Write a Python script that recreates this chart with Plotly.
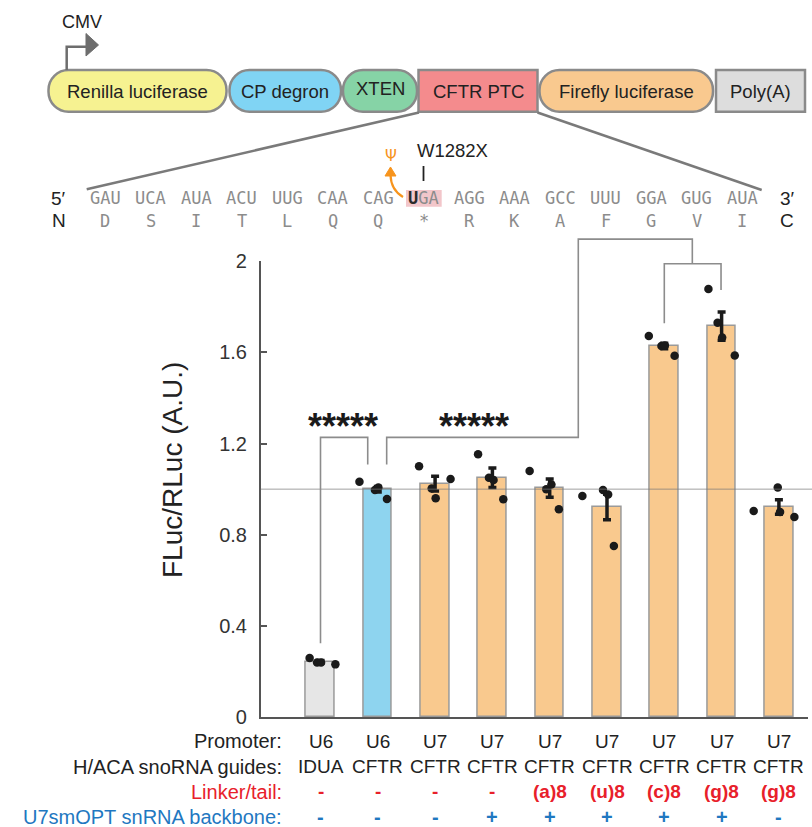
import plotly.graph_objects as go

W, H = 812, 827

# ---------------- data ----------------
promoter = ["U6", "U6", "U7", "U7", "U7", "U7", "U7", "U7", "U7"]
guides = ["IDUA", "CFTR", "CFTR", "CFTR", "CFTR", "CFTR", "CFTR", "CFTR", "CFTR"]
linker_tail = ["-", "-", "-", "-", "(a)8", "(u)8", "(c)8", "(g)8", "(g)8"]
backbone = ["-", "-", "-", "+", "+", "+", "+", "+", "-"]

bar_means = [0.243, 1.000, 1.024, 1.050, 1.004, 0.922, 1.627, 1.715, 0.922]
bar_sem = [0.006, 0.012, 0.032, 0.043, 0.040, 0.056, 0.012, 0.062, 0.032]

rep_a = [0.260, 1.032, 1.100, 1.153, 1.080, 0.970, 1.671, 1.877, 0.904]
rep_b = [0.240, 0.996, 1.003, 1.050, 1.000, 0.996, 1.627, 1.729, 1.007]
rep_c = [0.240, 1.007, 0.960, 1.040, 1.020, 0.977, 1.630, 1.665, 0.900]
rep_d = [0.232, 0.957, 1.044, 0.956, 0.912, 0.751, 1.585, 1.586, 0.878]
jit_a = [-0.19, -0.32, -0.28, -0.25, -0.35, -0.43, -0.27, -0.23, -0.44]
jit_b = [-0.06, -0.05, -0.06, -0.06, -0.06, -0.07, -0.05, -0.07, -0.02]
jit_c = [0.01, 0.01, 0.01, 0.02, 0.03, 0.02, 0.01, 0.01, 0.02]
jit_d = [0.26, 0.16, 0.27, 0.19, 0.16, 0.12, 0.18, 0.23, 0.27]

bar_colors = ["#e6e6e6", "#8ed4ef"] + ["#f9c98e"] * 7

y_ticks = [0, 0.4, 0.8, 1.2, 1.6, 2]
y_ticktext = ["0", "0.4", "0.8", "1.2", "1.6", "2"]

codons = ["GAU", "UCA", "AUA", "ACU", "UUG", "CAA", "CAG", "UGA",
          "AGG", "AAA", "GCC", "UUU", "GGA", "GUG", "AUA"]
amino = ["D", "S", "I", "T", "L", "Q", "Q", "*", "R", "K", "A", "F", "G", "V", "I"]

parts = ["Renilla luciferase", "CP degron", "XTEN", "CFTR PTC", "Firefly luciferase", "Poly(A)"]
part_fill = ["#f6f291", "#80d4f4", "#86d3a6", "#f48b8d", "#f9c98f", "#dddddd"]

# ---------------- helpers ----------------
def px(x):
    return x / W

def py(y):
    return 1 - y / H

Y0PIX, Y2PIX = 717.3, 261.0
X0C, XSTEP = 320.5, 57.3

def yv(v):
    return py(Y0PIX - v * (Y0PIX - Y2PIX) / 2)

FONT = "Liberation Sans, Arial, sans-serif"
MONO = "DejaVu Sans Mono, monospace"

fig = go.Figure()

n = len(bar_means)
xs = list(range(n))
fig.add_trace(go.Bar(
    x=xs, y=bar_means, width=0.5,
    marker=dict(color=bar_colors, line=dict(color="#9a9a9a", width=1.5)),
    error_y=dict(type="data", array=bar_sem, color="#1a1a1a", thickness=3.5, width=4),
    showlegend=False, hoverinfo="skip",
))

px_pts, py_pts = [], []
for reps, jit in [(rep_a, jit_a), (rep_b, jit_b), (rep_c, jit_c), (rep_d, jit_d)]:
    for i in range(n):
        px_pts.append(i + jit[i])
        py_pts.append(reps[i])
fig.add_trace(go.Scatter(
    x=px_pts, y=py_pts, mode="markers",
    marker=dict(color="#1a1a1a", size=8.5),
    showlegend=False, hoverinfo="skip", cliponaxis=False,
))

shapes = []
annots = []

def ann(text, x, y, size, color="#222", xanchor="center", yanchor="middle",
        font=FONT, xref="paper", yref="paper", **kw):
    annots.append(dict(text=text, x=x, y=y, xref=xref, yref=yref, showarrow=False,
                       xanchor=xanchor, yanchor=yanchor,
                       font=dict(size=size, color=color, family=font), **kw))

# reference line at 1.0
shapes.append(dict(type="line", xref="paper", yref="paper", x0=px(260.7), x1=1.0,
                   y0=yv(1.0), y1=yv(1.0), line=dict(color="rgba(120,120,120,0.7)", width=1),
                   layer="above"))

# significance brackets
BR = dict(color="#8c8c8c", width=1.6)
def xpath(points):
    s = ""
    for k, (xx, yy) in enumerate(points):
        s += ("M" if k == 0 else "L") + f"{xx},{yy} "
    return s

shapes.append(dict(type="path", xref="x", yref="paper", line=BR,
                   path=xpath([(0, yv(0.325)), (0, yv(1.227)), (0.824, yv(1.227)), (0.824, yv(1.108))])))
shapes.append(dict(type="path", xref="x", yref="paper", line=BR,
                   path=xpath([(1.155, yv(1.108)), (1.155, yv(1.227)), (4.499, yv(1.227)),
                               (4.499, yv(2.096)), (6.489, yv(2.096)), (6.489, yv(1.988))])))
shapes.append(dict(type="path", xref="x", yref="paper", line=BR,
                   path=xpath([(6.0, yv(1.727)), (6.0, yv(1.988)), (6.99, yv(1.988)), (6.99, yv(1.873))])))

ann("<b>*****</b>", 0.40, py(426), 36, "#1a1a1a", xref="x")
ann("<b>*****</b>", 2.68, py(426), 36, "#1a1a1a", xref="x")

# y-axis title
ann("FLuc/RLuc (A.U.)", px(172), py(470), 28, "#222", textangle=-90)

# bottom condition table
row_y = [741, 766.5, 791.5, 816.5]
ann("Promoter:", px(284), py(row_y[0]), 20, "#222", xanchor="right")
ann("H/ACA snoRNA guides:", px(284), py(row_y[1]), 20, "#222", xanchor="right")
ann("Linker/tail:", px(284), py(row_y[2]), 20, "#e8202a", xanchor="right")
ann("U7smOPT snRNA backbone:", px(284), py(row_y[3]), 20, "#1f78c1", xanchor="right")
for i in range(n):
    ann(promoter[i], i, py(row_y[0]), 19, "#222", xref="x")
    ann(guides[i], i, py(row_y[1]), 19, "#222", xref="x")
    ann("<b>" + linker_tail[i] + "</b>", i, py(row_y[2]), 19, "#e8202a", xref="x")
    ann("<b>" + backbone[i] + "</b>", i, py(row_y[3]), 20, "#1f78c1", xref="x")

# ---------------- construct diagram ----------------
def pp(x, y):
    return f"{px(x):.5f},{py(y):.5f}"

def rrect(x0, y0, x1, y1, r):
    k = 0.5523 * r
    return (f"M{pp(x0 + r, y0)} L{pp(x1 - r, y0)} "
            f"C{pp(x1 - r + k, y0)} {pp(x1, y0 + r - k)} {pp(x1, y0 + r)} "
            f"L{pp(x1, y1 - r)} "
            f"C{pp(x1, y1 - r + k)} {pp(x1 - r + k, y1)} {pp(x1 - r, y1)} "
            f"L{pp(x0 + r, y1)} "
            f"C{pp(x0 + r - k, y1)} {pp(x0, y1 - r + k)} {pp(x0, y1 - r)} "
            f"L{pp(x0, y0 + r)} "
            f"C{pp(x0, y0 + r - k)} {pp(x0 + r - k, y0)} {pp(x0 + r, y0)} Z")

box_x = [(48.5, 226.5), (229.5, 341.0), (343.0, 417.0), (418.5, 537.5), (539.5, 713.0), (716.0, 805.0)]
box_r = [20, 20, 20, 0, 20, 0]
BT, BB = 70.0, 111.7
for (x0, x1), r, fill, label in zip(box_x, box_r, part_fill, parts):
    if r > 0:
        shapes.append(dict(type="path", xref="paper", yref="paper", path=rrect(x0, BT, x1, BB, r),
                           fillcolor=fill, line=dict(color="#8a8a8a", width=2.5)))
    else:
        shapes.append(dict(type="rect", xref="paper", yref="paper", x0=px(x0), x1=px(x1),
                           y0=py(BB), y1=py(BT), fillcolor=fill,
                           line=dict(color="#8a8a8a", width=2.5)))
    ty = 88.5 if label == "XTEN" else 91
    ann(label, px((x0 + x1) / 2), py(ty), 18.5, "#222")

# CMV promoter arrow
shapes.append(dict(type="path", xref="paper", yref="paper",
                   path=f"M{pp(66.7, 70)} L{pp(66.7, 46.7)} L{pp(87, 46.7)}",
                   line=dict(color="#6d6d6d", width=2.5)))
shapes.append(dict(type="path", xref="paper", yref="paper",
                   path=f"M{pp(86, 33.5)} L{pp(98.5, 45)} L{pp(86, 56)} Z",
                   fillcolor="#6d6d6d", line=dict(color="#6d6d6d", width=1)))
ann("CMV", px(82), py(22), 18, "#222")

# zoom lines
shapes.append(dict(type="line", xref="paper", yref="paper", x0=px(419), y0=py(112.5),
                   x1=px(86.7), y1=py(189.3), line=dict(color="#7a7a7a", width=2.5)))
shapes.append(dict(type="line", xref="paper", yref="paper", x0=px(537.5), y0=py(112.5),
                   x1=px(761.7), y1=py(190), line=dict(color="#7a7a7a", width=2.5)))

# PTC highlight
shapes.append(dict(type="rect", xref="paper", yref="paper", x0=px(406), x1=px(441.7),
                   y0=py(206.7), y1=py(190), fillcolor="#f2c6ca", line=dict(width=0), layer="below"))

# sequence
CODON_Y, AA_Y = 198.5, 220.5
for i, (cd, aa) in enumerate(zip(codons, amino)):
    cx = 105 + 45.5 * i
    if cd == "UGA":
        txt = "<span style='color:#2a2a2a'><b>U</b></span>GA"
    else:
        txt = cd
    ann(txt, px(cx), py(CODON_Y), 17, "#8c8c8c", font=MONO)
    ann(aa, px(cx), py(AA_Y), 17, "#8c8c8c", font=MONO)
ann("5′", px(59), py(CODON_Y), 19, "#222")
ann("N", px(59), py(AA_Y), 19, "#222")
ann("3′", px(787), py(CODON_Y), 19, "#222")
ann("C", px(787), py(AA_Y), 19, "#222")

# W1282X label
ann("W1282X", px(452), py(150.5), 18.5, "#222")
shapes.append(dict(type="line", xref="paper", yref="paper", x0=px(423.5), x1=px(423.5),
                   y0=py(166), y1=py(181), line=dict(color="#222", width=1.8)))

# pseudouridine arrow
ORANGE = "#f7941d"
shapes.append(dict(type="path", xref="paper", yref="paper",
                   path=f"M{pp(403, 197)} Q{pp(391, 190)} {pp(390.5, 175)}",
                   line=dict(color=ORANGE, width=2.2)))
shapes.append(dict(type="path", xref="paper", yref="paper",
                   path=f"M{pp(390.5, 167)} L{pp(396, 176)} L{pp(385, 176)} Z",
                   fillcolor=ORANGE, line=dict(color=ORANGE, width=1)))
ann("Ψ", px(390.7), py(156), 15, ORANGE, font="DejaVu Sans, sans-serif")

fig.update_layout(
    width=W, height=H,
    margin=dict(l=0, r=0, t=0, b=0, pad=0, autoexpand=False),
    paper_bgcolor="white", plot_bgcolor="white",
    xaxis=dict(domain=[px(260.7), px(808)],
               range=[(260.7 - X0C) / XSTEP, (808 - X0C) / XSTEP],
               showticklabels=False, ticks="", showgrid=False, zeroline=False,
               showline=True, linecolor="#555", linewidth=1.5, fixedrange=True,
               automargin=False),
    yaxis=dict(domain=[py(Y0PIX), py(Y2PIX)], range=[0, 2],
               tickvals=y_ticks, ticktext=y_ticktext, ticks="inside", ticklen=7,
               tickcolor="#555", tickwidth=1.5, showgrid=False, zeroline=False,
               showline=True, linecolor="#555", linewidth=1.5,
               tickfont=dict(size=20, color="#333", family=FONT),
               ticklabelstandoff=8, fixedrange=True, automargin=False),
    shapes=shapes,
    annotations=annots,
    showlegend=False,
    bargap=0,
)

fig.write_html("out.html", config={"displayModeBar": False},
               post_script="document.body.style.margin='0';document.body.style.padding='0';")
